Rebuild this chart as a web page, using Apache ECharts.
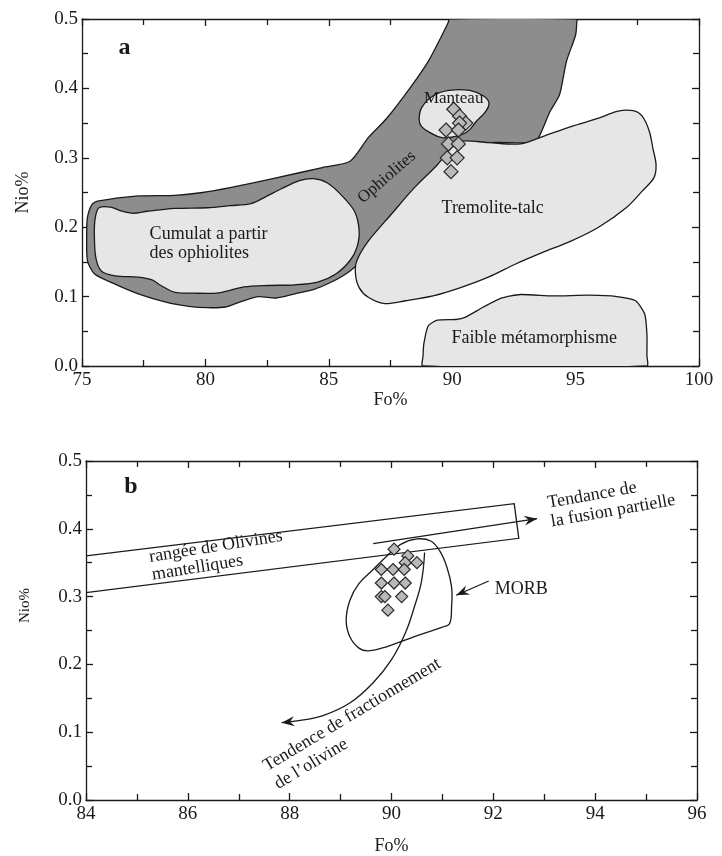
<!DOCTYPE html>
<html><head><meta charset="utf-8">
<script src="https://cdn.jsdelivr.net/npm/echarts@6/dist/echarts.min.js"></script>
<style>html,body{margin:0;padding:0;background:#fff}#c{width:722px;height:856px}</style>
</head><body><div id="c"></div>
<script>
// ---------- Panel a ----------
const xRangeA = [75, 100, 5];
const yRangeA = [0, 0.5, 0.1];
const samplesA = [[90.06,0.37],[90.3,0.36],[90.55,0.35],[90.3,0.35],[89.75,0.34],[90.25,0.34],[89.85,0.32],[90.25,0.32],[89.8,0.30],[90.2,0.30],[89.95,0.28]];
const ophiolitesA = [[89.87,0.5],[89.85,0.496],[89.59,0.477],[89.03,0.439],[88.28,0.400],[87.35,0.357],[86.6,0.329],[85.86,0.295],[84.74,0.286],[82.87,0.271],[81.0,0.257],[79.89,0.250],[78.77,0.246],[77.28,0.245],[75.69,0.238],[75.41,0.233],[75.22,0.214],[75.19,0.190],[75.22,0.152],[75.5,0.133],[76.34,0.118],[77.28,0.104],[78.4,0.092],[79.33,0.086],[80.07,0.084],[80.82,0.085],[81.38,0.092],[82.13,0.100],[82.87,0.098],[83.62,0.104],[84.37,0.110],[85.11,0.121],[85.86,0.137],[86.6,0.161],[88.8,0.257],[90.6,0.318],[93.3,0.322],[93.5,0.329],[93.97,0.367],[94.35,0.391],[94.63,0.439],[95.0,0.477],[95.05,0.496],[95.06,0.5]];
const cumulatA = [[75.69,0.228],[76.16,0.229],[76.62,0.223],[77.09,0.220],[77.65,0.223],[78.77,0.227],[80.07,0.228],[81.0,0.231],[81.85,0.234],[82.4,0.243],[83.06,0.255],[83.81,0.267],[84.37,0.270],[84.93,0.264],[85.49,0.247],[86.04,0.223],[86.23,0.195],[86.14,0.171],[85.86,0.152],[85.3,0.133],[84.55,0.121],[83.62,0.117],[82.5,0.116],[81.57,0.114],[81.0,0.109],[80.45,0.105],[79.51,0.105],[78.77,0.106],[78.2,0.116],[77.84,0.124],[77.28,0.128],[76.34,0.130],[75.78,0.137],[75.56,0.156],[75.5,0.190],[75.54,0.214]];
const tremoliteA = [[90.34,0.324],[91.46,0.322],[92.77,0.320],[93.69,0.331],[94.81,0.345],[95.93,0.357],[96.68,0.367],[97.33,0.368],[97.7,0.360],[97.99,0.338],[98.13,0.314],[98.26,0.290],[98.17,0.271],[97.7,0.252],[97.05,0.228],[95.93,0.200],[94.81,0.180],[93.69,0.164],[92.57,0.147],[91.46,0.128],[90.34,0.113],[89.22,0.101],[88.1,0.094],[87.26,0.090],[86.6,0.099],[86.23,0.113],[86.08,0.133],[86.14,0.152],[86.6,0.180],[87.54,0.219],[88.47,0.257],[89.4,0.290],[89.96,0.314]];
const manteauA = [[88.66,0.355],[88.76,0.372],[89.22,0.389],[89.87,0.397],[90.71,0.397],[91.27,0.389],[91.49,0.379],[91.36,0.367],[90.99,0.353],[90.62,0.338],[90.15,0.331],[89.59,0.329],[89.12,0.336],[88.76,0.345]];
const faibleA = [[88.81,0],[88.82,0.015],[88.85,0.032],[89.03,0.058],[89.4,0.066],[90.15,0.067],[90.52,0.070],[91.27,0.085],[92.01,0.098],[92.76,0.103],[94.07,0.101],[95.56,0.102],[96.68,0.100],[97.43,0.094],[97.8,0.075],[97.89,0.046],[97.89,0.015],[97.89,0]];
const labelsA = [['a',76.72,0.458],['Manteau',90.06,0.385],['Ophiolites',87.35,0.272],['Tremolite-talc',91.64,0.228],['Cumulat a partir\ndes ophiolites',77.74,0.176],['Faible métamorphisme',93.32,0.040]];

// ---------- Panel b ----------
const xRangeB = [84, 96, 2];
const yRangeB = [0, 0.5, 0.1];
const samplesB = [[90.05,0.37],[90.32,0.36],[90.27,0.35],[90.5,0.35],[89.8,0.34],[90.03,0.34],[90.25,0.34],[89.8,0.32],[90.05,0.32],[90.27,0.32],[89.8,0.30],[89.87,0.30],[90.2,0.30],[89.93,0.28]];
const olivineBandB = [[84,0.306],[84,0.360],[92.41,0.437],[92.5,0.386]];
const morbB = [[90.5,0.385],[90.77,0.382],[90.95,0.367],[91.09,0.343],[91.18,0.314],[91.18,0.285],[91.14,0.260],[91.0,0.255],[90.45,0.241],[89.9,0.226],[89.55,0.220],[89.36,0.224],[89.18,0.241],[89.11,0.265],[89.18,0.294],[89.36,0.319],[89.64,0.340],[89.91,0.360],[90.18,0.377]];
const fusionArrowB = [[89.64,0.378],[92.86,0.415]];
const fractionArrowB = [[90.65,0.365],[90.59,0.323],[90.45,0.285],[90.27,0.246],[90.0,0.207],[89.64,0.173],[89.18,0.143],[88.64,0.124],[88.18,0.117],[87.84,0.114]];
const morbArrowB = [[91.91,0.323],[91.27,0.302]];
const labelsB = [['b',84.88,0.462],['rangée de Olivines\nmantelliques',85.27,0.345],['Tendance de\nla fusion partielle',93.1,0.424],['MORB',92.55,0.311],['Tendence de fractionnement\nde l’olivine',87.62,0.035]];

// ---------- styles ----------
const INK = '#1a1a1a';
const SERIF = '"Liberation Serif","DejaVu Serif",serif';
const stylesA = [
  {font:'bold 24px '+SERIF, rot:0, align:'center'},
  {font:'17px '+SERIF, rot:0, align:'center'},
  {font:'17px '+SERIF, rot:41, align:'center'},
  {font:'18px '+SERIF, rot:0, align:'center'},
  {font:'18px '+SERIF, rot:0, align:'left', lh:19},
  {font:'18px '+SERIF, rot:0, align:'center'}
];
const stylesB = [
  {font:'bold 24px '+SERIF, rot:0, align:'center'},
  {font:'18px '+SERIF, rot:9, align:'left', lh:18},
  {font:'18px '+SERIF, rot:10, align:'left', lh:19},
  {font:'18px '+SERIF, rot:0, align:'center'},
  {font:'18px '+SERIF, rot:31, align:'left', lh:21}
];

function shapeSeries(shapes, fills, smooths, xi, yi) {
  return {
    type:'custom', xAxisIndex:xi, yAxisIndex:yi, clip:true, silent:true, z:2,
    data: shapes.map(s => s[0]),
    renderItem: (params, api) => {
      const i = params.dataIndex;
      return {type:'polygon', shape:{points: shapes[i].map(p => api.coord(p)), smooth: smooths[i]},
        style:{fill: fills[i], stroke: INK, lineWidth: 1.3}};
    }
  };
}
function arrowSeries(lines, xi, yi) {
  return {
    type:'custom', xAxisIndex:xi, yAxisIndex:yi, clip:true, silent:true, z:4,
    data: lines.map(l => l[0]),
    renderItem: (params, api) => {
      const pts = lines[params.dataIndex].map(p => api.coord(p));
      const n = pts.length, a = pts[n-2], b = pts[n-1];
      let dx = b[0]-a[0], dy = b[1]-a[1]; const len = Math.hypot(dx,dy); dx/=len; dy/=len;
      const L = 13, W = 5, nx = -dy, ny = dx;
      const head = [b, [b[0]-dx*L+nx*W, b[1]-dy*L+ny*W], [b[0]-dx*L*0.65, b[1]-dy*L*0.65], [b[0]-dx*L-nx*W, b[1]-dy*L-ny*W]];
      return {type:'group', children:[
        {type:'polyline', shape:{points:pts, smooth: n > 2 ? 0.4 : 0}, style:{stroke:INK, lineWidth:1.3, fill:null}},
        {type:'polygon', shape:{points:head}, style:{fill:INK}}
      ]};
    }
  };
}
function textSeries(labels, styles, xi, yi) {
  return {
    type:'custom', xAxisIndex:xi, yAxisIndex:yi, clip:false, silent:true, z:10,
    data: labels.map(l => [l[1], l[2]]),
    renderItem: (params, api) => {
      const l = labels[params.dataIndex], st = styles[params.dataIndex];
      const p = api.coord([l[1], l[2]]);
      return {type:'text', x:p[0], y:p[1], rotation: st.rot*Math.PI/180,
        style:{text:l[0], fill:INK, font:st.font, align:st.align, verticalAlign:'middle', lineHeight: st.lh || 20}};
    }
  };
}
function scatterSeries(data, xi, yi, size) {
  return {type:'scatter', xAxisIndex:xi, yAxisIndex:yi, data, symbol:'diamond', symbolSize:size, z:6, silent:true,
    itemStyle:{color:'#b9b9b9', borderColor:'#2a2a2a', borderWidth:1.2, opacity:1}};
}

const lineStyle = {color:INK, width:1.3};
function xAx(grid, r, pos, named, gap) {
  return {gridIndex:grid, type:'value', min:r[0], max:r[1], interval:r[2], position:pos,
    axisLine:{onZero:false, lineStyle}, axisTick:{inside:true, length:7, lineStyle},
    minorTick:{show:true, splitNumber:2, length:6, lineStyle}, splitLine:{show:false}, minorSplitLine:{show:false},
    axisLabel:{show:named, fontFamily:SERIF, fontSize:19, color:INK, margin:5},
    name: named ? 'Fo%' : '', nameLocation:'middle', nameGap:gap, nameTextStyle:{fontFamily:SERIF, fontSize:18, color:INK}};
}
function yAx(grid, r, pos, named, fs, gap, pad) {
  return {gridIndex:grid, type:'value', min:r[0], max:r[1], interval:r[2], position:pos,
    axisLine:{onZero:false, lineStyle}, axisTick:{inside:true, length:7, lineStyle},
    minorTick:{show:true, splitNumber:2, length:6, lineStyle}, splitLine:{show:false}, minorSplitLine:{show:false},
    axisLabel:{show:named, fontFamily:SERIF, fontSize:19, color:INK, margin:4, formatter: v => v.toFixed(1)},
    name: named ? 'Nio%' : '', nameLocation:'middle', nameGap:gap, nameRotate:90,
    nameTextStyle:{fontFamily:SERIF, fontSize:fs, color:INK, padding:pad}};
}

const chart = echarts.init(document.getElementById('c'), null, {renderer:'canvas'});
chart.setOption({
  backgroundColor:'#fff',
  animation:false,
  grid:[{left:82, top:19, width:617, height:347}, {left:86, top:461, width:611, height:341}],
  xAxis:[xAx(0, xRangeA, 'bottom', true, 21), xAx(0, xRangeA, 'top', false, 0),
         xAx(1, xRangeB, 'bottom', true, 37), xAx(1, xRangeB, 'top', false, 0)],
  yAxis:[yAx(0, yRangeA, 'left', true, 18, 50, 0), yAx(0, yRangeA, 'right', false, 18, 0, 0),
         yAx(1, yRangeB, 'left', true, 15, 53, [0,0,0,50]), yAx(1, yRangeB, 'right', false, 15, 0, 0)],
  series:[
    shapeSeries([ophiolitesA, cumulatA, tremoliteA, manteauA, faibleA], ['#8d8d8d','#e6e6e6','#e6e6e6','#e6e6e6','#e6e6e6'], [0.25,0.3,0.3,0.4,0.2], 0, 0),
    scatterSeries(samplesA, 0, 0, 14),
    textSeries(labelsA, stylesA, 0, 0),
    shapeSeries([olivineBandB, morbB], [null, null], [0, 0.4], 2, 2),
    arrowSeries([fusionArrowB, fractionArrowB, morbArrowB], 2, 2),
    scatterSeries(samplesB, 2, 2, 12),
    textSeries(labelsB, stylesB, 2, 2)
  ]
});
</script></body></html>
